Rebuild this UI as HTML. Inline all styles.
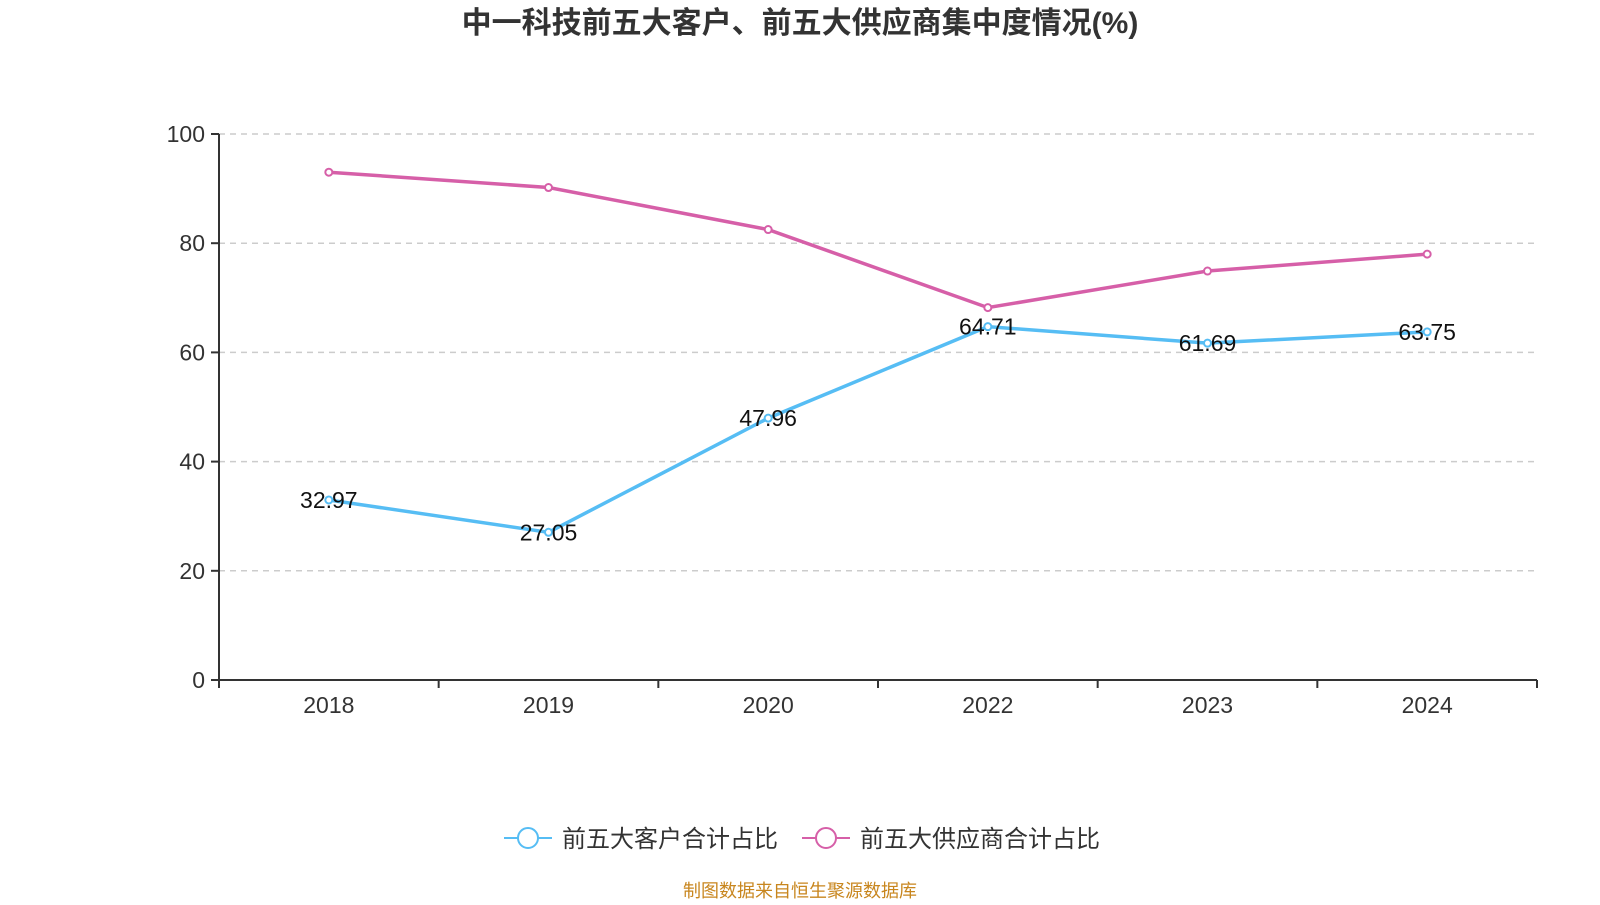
<!DOCTYPE html>
<html><head><meta charset="utf-8"><style>
body{margin:0;background:#fff;font-family:"Liberation Sans","Noto Sans CJK SC",sans-serif}
</style></head><body>
<svg width="1600" height="900" id="c" xmlns="http://www.w3.org/2000/svg">
<text x="800" y="33" text-anchor="middle" font-size="30" font-weight="bold" fill="#333">中一科技前五大客户、前五大供应商集中度情况(%)</text>
<g id="grid"></g><g id="axes"></g><g id="series"></g>
<g>
<g><line x1="504" y1="838" x2="552" y2="838" stroke="#56bdf4" stroke-width="2"/><circle cx="528" cy="838" r="10" fill="#fff" stroke="#56bdf4" stroke-width="2"/><text x="562" y="847" font-size="24" fill="#333">前五大客户合计占比</text></g>
<g><line x1="802" y1="838" x2="850" y2="838" stroke="#d65fa8" stroke-width="2"/><circle cx="826" cy="838" r="10" fill="#fff" stroke="#d65fa8" stroke-width="2"/><text x="860" y="847" font-size="24" fill="#333">前五大供应商合计占比</text></g>
</g>
<text x="800" y="897" text-anchor="middle" font-size="18" fill="#c8861e">制图数据来自恒生聚源数据库</text>
</svg>
<script>
const categories=["2018","2019","2020","2022","2023","2024"];
const customers=[32.97,27.05,47.96,64.71,61.69,63.75];
const suppliers=[93.0,90.2,82.5,68.2,74.9,78.0];
const yTicks=[0,20,40,60,80,100];
const L=219,R=1537,T=134,B=680;
const NS="http://www.w3.org/2000/svg";
const bw=(R-L)/categories.length;
const x=i=>L+bw*(i+0.5), y=v=>B-(v/100)*(B-T);
function mk(t,a,p){const e=document.createElementNS(NS,t);for(const k in a)e.setAttribute(k,a[k]);p.appendChild(e);return e;}
const g=document.getElementById('grid'),ax=document.getElementById('axes'),s=document.getElementById('series');
yTicks.forEach(v=>{
 if(v>0){const l=mk('line',{x1:L,x2:R,y1:y(v),y2:y(v),stroke:'#ccc','stroke-width':1.5,'stroke-dasharray':'6,5'},g);
 
 }
 const tk=mk('line',{x1:L-8,x2:L,y1:y(v),y2:y(v),stroke:'#333','stroke-width':2},ax);
 const t=mk('text',{x:L-14,y:y(v)+8,'text-anchor':'end','font-size':23,fill:'#333'},ax);t.textContent=v;
 
 
});
mk('line',{x1:L,x2:L,y1:T,y2:B,stroke:'#333','stroke-width':2},ax);
mk('line',{x1:L,x2:R,y1:B,y2:B,stroke:'#333','stroke-width':2},ax);
for(let i=0;i<=categories.length;i++)mk('line',{x1:L+bw*i,x2:L+bw*i,y1:B,y2:B+8,stroke:'#333','stroke-width':2},ax);
categories.forEach((c,i)=>{const t=mk('text',{x:x(i),y:B+33,'text-anchor':'middle','font-size':23,fill:'#333'},ax);t.textContent=c;
 
 });
function series(d,col,name,labels){
 const p=mk('polyline',{points:d.map((v,i)=>x(i)+','+y(v)).join(' '),fill:'none',stroke:col,'stroke-width':3.5},s);
 
 
 d.forEach((v,i)=>{const c=mk('circle',{cx:x(i),cy:y(v),r:3.5,fill:'#fff',stroke:col,'stroke-width':2},s);
  
  
  if(labels){const t=mk('text',{x:x(i),y:y(v)+8,'text-anchor':'middle','font-size':23,fill:'#111'},s);t.textContent=v.toFixed(2);
  
  }});
}
series(suppliers,'#d65fa8','suppliers',false);
series(customers,'#56bdf4','customers',true);
</script>
</body></html>
